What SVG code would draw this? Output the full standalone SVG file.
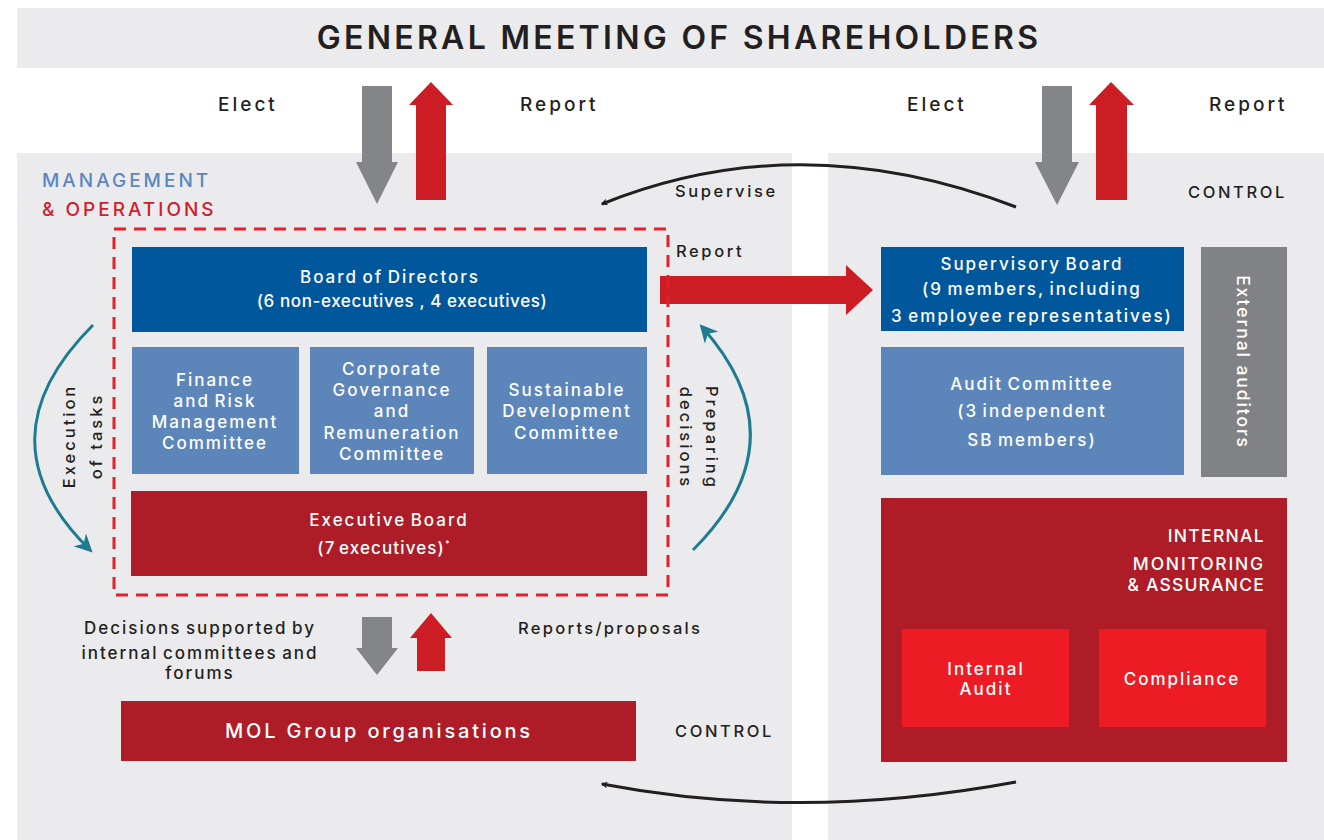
<svg xmlns="http://www.w3.org/2000/svg" width="1324" height="840" viewBox="0 0 1324 840">
  <style>
    text { font-family: Inter, "Open Sans", "Liberation Sans", sans-serif; font-weight: 500; }
    .dark { fill: #231f20; }
    .white { fill: #ffffff; }
    .lbl { font-size: 19px; letter-spacing: 3px; }
    .box { font-size: 17px; letter-spacing: 2px; word-spacing: -2px; text-anchor: middle; }
    .side { font-size: 16.5px; letter-spacing: 2.6px; }
    .rot { font-size: 16.5px; letter-spacing: 3px; text-anchor: middle; }
    .panel { fill: #ebebed; }
    .navy { fill: #01579b; }
    .steel { fill: #5c86ba; }
    .maroon { fill: #ad1c27; }
    .scarlet { fill: #ed1c24; }
    .grayarrow { fill: #848589; }
    .redarrow { fill: #cc1d24; }
    .curve { fill: none; stroke-width: 3; }
  </style>
  <defs>
    <marker id="blackHead" viewBox="0 0 10 10" refX="8" refY="5" markerWidth="7" markerHeight="7" markerUnits="userSpaceOnUse" orient="auto">
      <path d="M0,0 L10,5 L0,10 L3,5 Z" fill="#231f20"/>
    </marker>
    <marker id="tealHead" viewBox="0 0 10 10" refX="8" refY="5" markerWidth="6" markerHeight="6" orient="auto">
      <path d="M0,0 L10,5 L0,10 L3,5 Z" fill="#1e7b90"/>
    </marker>
  </defs>

  <!-- background bands -->
  <rect x="17" y="8" width="1307" height="60" class="panel"/>
  <rect x="17" y="153" width="775" height="687" class="panel"/>
  <rect x="828" y="153" width="496" height="687" class="panel"/>

  <g id="gms-title">
    <text x="679" y="49" class="dark" style="font-size:32px; letter-spacing:3.3px; font-weight:600" text-anchor="middle">GENERAL MEETING OF SHAREHOLDERS</text>
  </g>

  <!-- labels -->
  <g id="labels">
    <text x="218" y="111" class="dark lbl">Elect</text>
    <text x="520" y="111" class="dark lbl">Report</text>
    <text x="907" y="111" class="dark lbl">Elect</text>
    <text x="1209" y="111" class="dark lbl">Report</text>
    <text x="42" y="187" fill="#5b87c0" font-size="19" letter-spacing="3">MANAGEMENT</text>
    <text x="42" y="216" fill="#d0202c" font-size="19" letter-spacing="3">&amp; OPERATIONS</text>
    <text x="675" y="197" class="dark side">Supervise</text>
    <text x="1188" y="198" class="dark side">CONTROL</text>
    <text x="676" y="257" class="dark side">Report</text>
    <text x="200" y="634" class="dark box">Decisions supported by</text>
    <text x="200" y="659" class="dark box">internal committees and</text>
    <text x="200" y="679" class="dark box">forums</text>
    <text x="518" y="634" class="dark" font-size="16.5" letter-spacing="2.3">Reports/proposals</text>
    <text x="675" y="737" class="dark side">CONTROL</text>
    <g transform="translate(75,436) rotate(-90)">
      <text x="0" y="0" class="dark rot">Execution</text>
    </g>
    <g transform="translate(102,436) rotate(-90)">
      <text x="0" y="0" class="dark rot">of tasks</text>
    </g>
    <g transform="translate(706,438) rotate(90)">
      <text x="0" y="0" class="dark rot">Preparing</text>
    </g>
    <g transform="translate(680,438) rotate(90)">
      <text x="0" y="0" class="dark rot">decisions</text>
    </g>
  </g>

  <!-- connectors -->
  <g id="connectors">
    <!-- shareholder meeting arrows, left -->
    <polygon class="grayarrow" points="362,86 392,86 392,162 398,162 377,204 356,162 362,162"/>
    <polygon class="redarrow" points="416,200 446,200 446,105 453,105 431,82 409,105 416,105"/>
    <!-- shareholder meeting arrows, right -->
    <polygon class="grayarrow" points="1042,86 1072,86 1072,162 1079,162 1057,205 1035,162 1042,162"/>
    <polygon class="redarrow" points="1096,200 1127,200 1127,105 1134,105 1111,82 1089,105 1096,105"/>
    <!-- board to group organisations -->
    <polygon class="grayarrow" points="362,617 392,617 392,648 398,648 377,675 356,648 362,648"/>
    <polygon class="redarrow" points="417,671 445,671 445,638 452,638 431,613 410,638 417,638"/>
    <!-- report to supervisory board -->
    <polygon class="redarrow" points="660,276 846,276 846,265 873,290 846,315 846,304 660,304"/>
    <!-- supervise / control arcs -->
    <path class="curve" stroke="#231f20" d="M1016,207 Q800,124 602,204" marker-end="url(#blackHead)"/>
    <path class="curve" stroke="#231f20" d="M1016,782 Q800,822 602,784" marker-end="url(#blackHead)"/>
    <!-- execution / preparing arcs -->
    <path class="curve" stroke="#1e7b90" d="M93,325 Q-22,440 90,550" marker-end="url(#tealHead)"/>
    <path class="curve" stroke="#1e7b90" d="M693,550 Q803,440 702,327" marker-end="url(#tealHead)"/>
  </g>

  <!-- management group outline -->
  <rect x="114" y="229" width="554" height="366" fill="none" stroke="#e0202a" stroke-width="3" stroke-dasharray="12 8"/>

  <g id="board-of-directors">
    <rect x="132" y="247" width="515" height="85" class="navy"/>
    <text x="390" y="283" class="white box">Board of Directors</text>
    <text x="402" y="307" class="white box" style="letter-spacing:0.6px; word-spacing:0px">(6 non-executives , 4 executives)</text>
  </g>

  <g id="finance-risk-committee">
    <rect x="132" y="347" width="167" height="127" class="steel"/>
    <text x="215" y="386" class="white box">Finance</text>
    <text x="215" y="407" class="white box">and Risk</text>
    <text x="215" y="428" class="white box">Management</text>
    <text x="215" y="449" class="white box">Committee</text>
  </g>

  <g id="governance-remuneration-committee">
    <rect x="310" y="347" width="164" height="127" class="steel"/>
    <text x="392" y="375" class="white box">Corporate</text>
    <text x="392" y="396" class="white box">Governance</text>
    <text x="392" y="417" class="white box">and</text>
    <text x="392" y="439" class="white box">Remuneration</text>
    <text x="392" y="460" class="white box">Committee</text>
  </g>

  <g id="sustainable-development-committee">
    <rect x="487" y="347" width="160" height="127" class="steel"/>
    <text x="567" y="396" class="white box">Sustainable</text>
    <text x="567" y="417" class="white box">Development</text>
    <text x="567" y="439" class="white box">Committee</text>
  </g>

  <g id="executive-board">
    <rect x="131" y="491" width="516" height="85" class="maroon"/>
    <text x="389" y="526" class="white box">Executive Board</text>
    <text x="384" y="554" class="white box" style="letter-spacing:1.1px">(7 executives)<tspan font-size="9" dy="-7">*</tspan></text>
  </g>

  <g id="mol-group-organisations">
    <rect x="121" y="701" width="515" height="60" class="maroon"/>
    <text x="379" y="738" class="white" font-size="20" letter-spacing="2.8" text-anchor="middle">MOL Group organisations</text>
  </g>

  <g id="supervisory-board">
    <rect x="881" y="247" width="303" height="84" class="navy"/>
    <text x="1032" y="270" class="white box">Supervisory Board</text>
    <text x="1032" y="295" class="white box">(9 members, including</text>
    <text x="1032" y="322" class="white box">3 employee representatives)</text>
  </g>

  <g id="audit-committee">
    <rect x="881" y="347" width="303" height="128" class="steel"/>
    <text x="1032" y="390" class="white box">Audit Committee</text>
    <text x="1032" y="417" class="white box">(3 independent</text>
    <text x="1032" y="446" class="white box">SB members)</text>
  </g>

  <g id="external-auditors">
    <rect x="1201" y="247" width="86" height="230" fill="#818286"/>
    <g transform="translate(1237,362) rotate(90)">
      <text x="0" y="0" class="white" font-size="17.5" letter-spacing="1.9" text-anchor="middle">External auditors</text>
    </g>
  </g>

  <g id="internal-monitoring">
    <rect x="881" y="498" width="406" height="264" class="maroon"/>
    <text x="1265" y="542" class="white" font-size="17.5" letter-spacing="1.3" text-anchor="end">INTERNAL</text>
    <text x="1265" y="570" class="white" font-size="17.5" letter-spacing="1.8" text-anchor="end">MONITORING</text>
    <text x="1265" y="591" class="white" font-size="17.5" letter-spacing="1.2" text-anchor="end">&amp; ASSURANCE</text>
  </g>

  <g id="internal-audit">
    <rect x="902" y="629" width="167" height="98" class="scarlet"/>
    <text x="986" y="675" class="white box">Internal</text>
    <text x="986" y="695" class="white box">Audit</text>
  </g>

  <g id="compliance">
    <rect x="1099" y="629" width="167" height="98" class="scarlet"/>
    <text x="1182" y="685" class="white box">Compliance</text>
  </g>
</svg>
